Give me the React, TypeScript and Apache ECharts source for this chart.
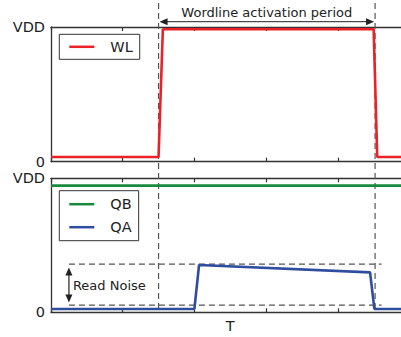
import React, { useEffect, useRef } from 'react';
import * as echarts from 'echarts';

// x in units of axis ticks (0..5), y as fraction of VDD
const wlX = [0, 1.5, 1.56, 4.5, 4.55, 5];
const wlY = [0.035, 0.035, 0.983, 0.983, 0.035, 0.035];
const qbX = [0, 5];
const qbY = [0.945, 0.945];
const qaX = [0, 2.0, 2.065, 4.45, 4.51, 5];
const qaY = [0.025, 0.025, 0.353, 0.298, 0.025, 0.025];
const periodStart = 1.5;
const periodEnd = 4.52;
const noiseLow = 0.054;
const noiseHigh = 0.36;
const noiseX0 = 0.25;
const noiseX1 = 4.61;
const yTickLabels = ['0', 'VDD'];

const FONT = 'DejaVu Sans';
const AX = '#333';
const DASH = '#555';

const zip = (xs: number[], ys: number[]) => xs.map((x, i) => [x, ys[i]]);

function xAx(grid: number, pos: 'top' | 'bottom', name?: string) {
  return {
    gridIndex: grid,
    type: 'value',
    min: 0,
    max: 5,
    interval: 1,
    position: pos,
    name: name || '',
    nameLocation: 'middle',
    nameGap: 6,
    nameTextStyle: { fontFamily: FONT, fontSize: 14.5, color: '#222', verticalAlign: 'top' },
    axisLine: { show: true, onZero: false, lineStyle: { color: AX, width: 1.3 } },
    axisTick: { show: true, inside: true, length: 4, lineStyle: { color: AX, width: 1.2 } },
    axisLabel: { show: false },
    splitLine: { show: false },
  };
}

function yAx(grid: number) {
  return {
    gridIndex: grid,
    type: 'value',
    min: 0,
    max: 1,
    interval: 1,
    axisLine: { show: true, onZero: false, lineStyle: { color: AX, width: 1.3 } },
    axisTick: { show: false },
    axisLabel: {
      show: true,
      margin: 6,
      fontFamily: FONT,
      fontSize: 14.5,
      color: '#222',
      formatter: (v: number) => (v === 0 ? yTickLabels[0] : yTickLabels[1]),
    },
    splitLine: { show: false },
  };
}

export default function App() {
  const ref = useRef<HTMLDivElement>(null);
  useEffect(() => {
    if (!ref.current) return;
    const chart = echarts.init(ref.current, null, { renderer: 'svg' });
    const dashLine = { color: DASH, width: 1.2, type: [6, 4] };
    const option: any = {
      animation: false,
      grid: [
        { left: 51, top: 27, width: 358.5, height: 134.7, containLabel: false, outerBoundsMode: 'none' },
        { left: 51, top: 178.3, width: 358.5, height: 134, containLabel: false, outerBoundsMode: 'none' },
      ],
      xAxis: [xAx(0, 'bottom'), xAx(0, 'top'), xAx(1, 'bottom', 'T'), xAx(1, 'top')],
      yAxis: [yAx(0), yAx(1)],
      legend: [
        {
          data: [{ name: 'WL', icon: 'rect' }],
          left: 59.3,
          top: 34.3,
          padding: [5, 7, 5, 10],
          itemWidth: 25,
          itemHeight: 2.5,
          borderColor: '#333',
          borderWidth: 1,
          borderRadius: 0,
          textStyle: { fontFamily: FONT, fontSize: 14.5, color: '#222', padding: [0, 0, 0, 11] },
        },
        {
          data: [
            { name: 'QB', icon: 'rect' },
            { name: 'QA', icon: 'rect' },
          ],
          orient: 'vertical',
          left: 59.3,
          top: 190.7,
          padding: [6, 7, 6, 10],
          itemGap: 8,
          itemWidth: 25,
          itemHeight: 2.5,
          borderColor: '#333',
          borderWidth: 1,
          borderRadius: 0,
          textStyle: { fontFamily: FONT, fontSize: 14.5, color: '#222', padding: [0, 0, 0, 11] },
        },
      ],
      series: [
        {
          name: 'WL', type: 'line', xAxisIndex: 0, yAxisIndex: 0, data: zip(wlX, wlY),
          showSymbol: false, lineStyle: { color: '#ec2027', width: 2.6 }, itemStyle: { color: '#ec2027' }, z: 5,
        },
        {
          name: 'QB', type: 'line', xAxisIndex: 2, yAxisIndex: 1, data: zip(qbX, qbY),
          showSymbol: false, lineStyle: { color: '#178a3e', width: 2.6 }, itemStyle: { color: '#178a3e' }, z: 5,
        },
        {
          name: 'QA', type: 'line', xAxisIndex: 2, yAxisIndex: 1, data: zip(qaX, qaY),
          showSymbol: false, lineStyle: { color: '#2f4d9f', width: 2.6 }, itemStyle: { color: '#2f4d9f' }, z: 5,
        },
        {
          name: 'noiseHigh', type: 'line', xAxisIndex: 2, yAxisIndex: 1,
          data: [[noiseX0, noiseHigh], [noiseX1, noiseHigh]],
          showSymbol: false, lineStyle: dashLine, z: 3, silent: true,
        },
        {
          name: 'noiseLow', type: 'line', xAxisIndex: 2, yAxisIndex: 1,
          data: [[noiseX0, noiseLow], [noiseX1, noiseLow]],
          showSymbol: false, lineStyle: dashLine, z: 3, silent: true,
        },
      ],
    };
    chart.setOption(option);

    const p = (g: number, x: number, y: number) => chart.convertToPixel({ gridIndex: g }, [x, y]) as number[];
    const [xs] = p(0, periodStart, 1);
    const [xe] = p(0, periodEnd, 1);
    const bottomY = p(1, 0, 0)[1];
    const ay = 21.7;
    const [nx, nTop] = p(1, noiseX0, noiseHigh);
    const nBot = p(1, noiseX0, noiseLow)[1];
    const at = nTop + 3.5;
    const ab = nBot - 2.5;
    const black = '#222';
    const graphic: any[] = [
      { type: 'line', shape: { x1: xs, y1: 3, x2: xs, y2: bottomY }, style: { stroke: DASH, lineWidth: 1.2, lineDash: [6, 4] }, z: 4 },
      { type: 'line', shape: { x1: xe, y1: 3, x2: xe, y2: bottomY }, style: { stroke: DASH, lineWidth: 1.2, lineDash: [6, 4] }, z: 4 },
      { type: 'line', shape: { x1: xs + 6, y1: ay, x2: xe - 6, y2: ay }, style: { stroke: black, lineWidth: 1 } },
      { type: 'polygon', shape: { points: [[xs + 1, ay], [xs + 9, ay - 3.5], [xs + 9, ay + 3.5]] }, style: { fill: black } },
      { type: 'polygon', shape: { points: [[xe - 1, ay], [xe - 9, ay - 3.5], [xe - 9, ay + 3.5]] }, style: { fill: black } },
      {
        type: 'text', x: (xs + xe) / 2, y: 12,
        style: { text: 'Wordline activation period', fontFamily: FONT, fontSize: 13, fill: black, align: 'center', verticalAlign: 'middle' },
      },
      { type: 'line', shape: { x1: nx, y1: at + 5, x2: nx, y2: ab - 5 }, style: { stroke: black, lineWidth: 1.2 } },
      { type: 'polygon', shape: { points: [[nx, at], [nx - 3.5, at + 8], [nx + 3.5, at + 8]] }, style: { fill: black } },
      { type: 'polygon', shape: { points: [[nx, ab], [nx - 3.5, ab - 8], [nx + 3.5, ab - 8]] }, style: { fill: black } },
      {
        type: 'text', x: nx + 4, y: (nTop + nBot) / 2 + 1,
        style: { text: 'Read Noise', fontFamily: FONT, fontSize: 13, fill: black, align: 'left', verticalAlign: 'middle' },
      },
    ];
    chart.setOption({ graphic });
    return () => chart.dispose();
  }, []);
  return (
    <div
      ref={ref}
      style={{ position: 'absolute', left: 0, top: 0, width: 401, height: 337, background: '#fff' }}
    />
  );
}
